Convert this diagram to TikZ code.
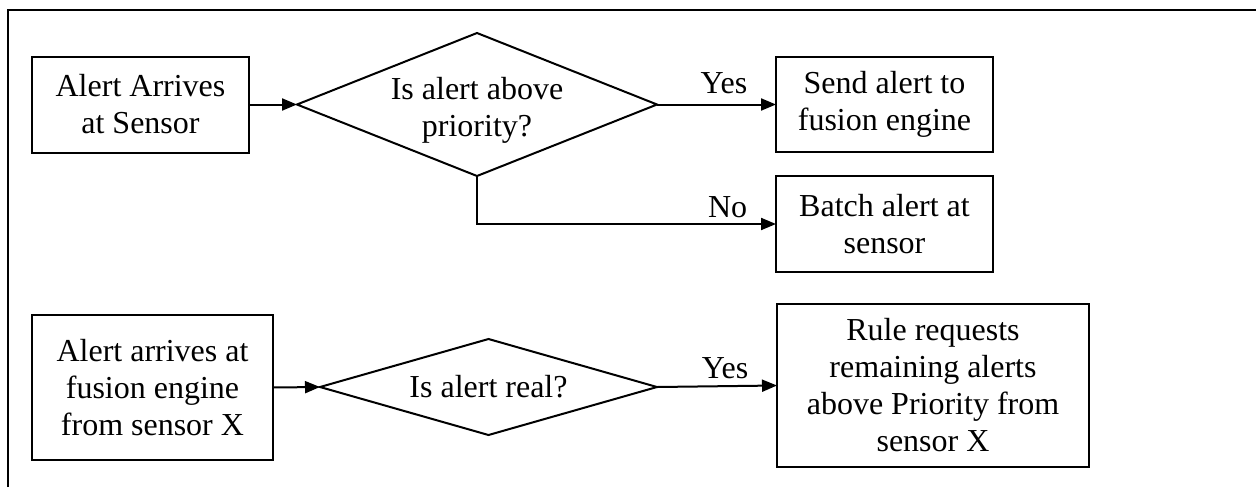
\documentclass[tikz,border=0pt]{standalone}
\usepackage{fontspec}
\setmainfont{Liberation Serif}
\usetikzlibrary{shapes.geometric,arrows.meta}
\begin{document}
\begin{tikzpicture}[x=0.5pt,y=-0.5pt,
  every node/.style={font=\fontsize{16}{18.5}\selectfont},
  stepbox/.style={draw,line width=1pt,rectangle,align=center,inner sep=0pt,outer sep=0pt},
  decision/.style={draw,line width=1pt,diamond,align=center,inner sep=0pt,outer sep=0pt},
  flow/.style={line width=1pt,-{Triangle[length=7.5pt,width=6pt]}},
  lbl/.style={inner sep=0pt,anchor=base}]
\useasboundingbox (0,0) rectangle (1256,487);
\coordinate (fa) at (8,487);
\coordinate (fb) at (8,10);
\coordinate (fc) at (1256,10);
\draw[line width=1.1pt] (fa) -- (fb) -- (fc);

\node[stepbox,minimum width=108.5pt,minimum height=48pt] (b1) at (140.5,104.5) {Alert Arrives\\at Sensor};
\node[decision,shape aspect=2.52,minimum width=180pt,minimum height=71.5pt,
  label={[align=center,inner sep=0pt,yshift=-3pt]center:Is alert above\\priority?}] (d1) at (477,104.5) {};
\node[stepbox,minimum width=108.5pt,minimum height=47.5pt] (b2) at (884.5,104.5) {Send alert to\\fusion engine};
\node[stepbox,minimum width=108.5pt,minimum height=48pt] (b3) at (884.5,224) {Batch alert at\\sensor};

\node[stepbox,minimum width=120.5pt,minimum height=72.5pt] (b4) at (152.5,387.5) {Alert arrives at\\fusion engine\\from sensor X};
\node[decision,shape aspect=3.51,minimum width=168.5pt,minimum height=48pt] (d2) at (488.5,387) {Is alert real?};
\node[stepbox,minimum width=156pt,minimum height=81.5pt] (b5) at (933,385.5) {Rule requests\\remaining alerts\\above Priority from\\sensor X};

\draw[flow] (b1.east) -- (d1.west);
\draw[flow] (d1.east) -- node[lbl,pos=0.563,yshift=5.5pt]{Yes} (b2.west);
\draw[flow] (d1.south) |- node[lbl,pos=0.919,yshift=3.5pt]{No} (b3.west);
\draw[flow] (b4.east) -- (d2.west);
\draw[flow] (d2.east) -- node[lbl,pos=0.567,yshift=4pt]{Yes} (b5.west);
\end{tikzpicture}
\end{document}
